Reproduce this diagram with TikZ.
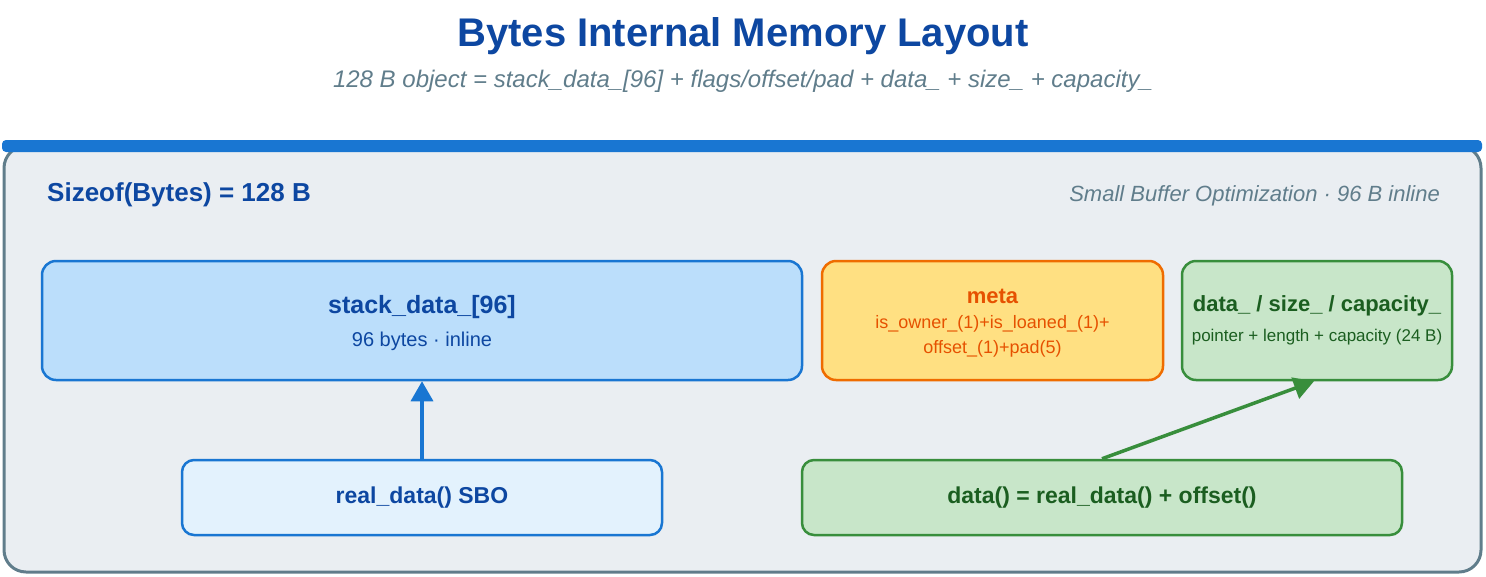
\documentclass[tikz,border=0pt]{standalone}
\usepackage{fontspec}
\setmainfont{Liberation Sans}
\usetikzlibrary{arrows.meta,positioning,calc}

\definecolor{inkblue}{HTML}{0D47A1}
\definecolor{slate}{HTML}{607D8B}
\definecolor{panelbg}{HTML}{EAEEF2}
\definecolor{barblue}{HTML}{1976D2}
\definecolor{stackfill}{HTML}{BBDEFB}
\definecolor{sbofill}{HTML}{E3F2FD}
\definecolor{metafill}{HTML}{FFE082}
\definecolor{metaline}{HTML}{EF6C00}
\definecolor{metaink}{HTML}{E65100}
\definecolor{greenfill}{HTML}{C8E6C9}
\definecolor{greenline}{HTML}{388E3C}
\definecolor{greenink}{HTML}{1B5E20}

\begin{document}
\begin{tikzpicture}[
  x=1pt, y=-1pt,
  line/.style={draw, -{Triangle[length=20pt,width=22pt]}, line width=3.5pt},
  box/.style={rectangle, draw, rounded corners=14pt, line width=2.5pt,
              inner sep=0pt, align=center},
  bluebox/.style={box, fill=stackfill, draw=barblue},
  metabox/.style={box, fill=metafill, draw=metaline},
  greenbox/.style={box, fill=greenfill, draw=greenline},
  headtext/.style={inner sep=0pt, font=\fontsize{#1}{#1}\selectfont\bfseries},
  plaintext/.style={inner sep=0pt, font=\fontsize{#1}{#1}\selectfont},
  notetext/.style={inner sep=0pt, text=slate, font=\fontsize{#1}{#1}\selectfont\itshape}
]
\useasboundingbox (0,0) rectangle (1486,576);

% =======================================================
%                     TITLE
% =======================================================
\node[headtext=40, text=inkblue] (title) at (743,36) {Bytes Internal Memory Layout};
\node[notetext=24] (subtitle) at (743,81)
  {128 B object = stack\_data\_[96] + flags/offset/pad + data\_ + size\_ + capacity\_};

% =======================================================
%                     OUTER PANEL
% =======================================================
\draw[fill=panelbg, draw=slate, line width=3pt, rounded corners=22pt]
  (4,146) rectangle (1481,572);
\fill[barblue, rounded corners=4pt] (2,140) rectangle (1482,152);

\node[headtext=26, text=inkblue, anchor=west] (sizeof) at (47,195) {Sizeof(Bytes) = 128 B};
\node[notetext=22, anchor=east] (sbo) at (1440,196)
  {Small Buffer Optimization · 96 B inline};

% =======================================================
%                     FIELDS
% =======================================================
\node[bluebox, minimum width=760pt, minimum height=119pt] (stack) at (422,320.5) {};
\node[headtext=25, text=inkblue] (stacktitle) at (422,307) {stack\_data\_[96]};
\node[plaintext=20, text=inkblue] (stacksub) at (422,341) {96 bytes · inline};

\node[metabox, minimum width=341pt, minimum height=119pt] (meta) at (992.5,320.5) {};
\node[headtext=22, text=metaink] (metatitle) at (992.5,296) {meta};
\node[plaintext=18, text=metaink] (metasub) at (992.5,324) {is\_owner\_(1)+is\_loaned\_(1)+};
\node[plaintext=18, text=metaink] (metasub2) at (992.5,349) {offset\_(1)+pad(5)};

\node[greenbox, minimum width=270pt, minimum height=119pt] (fields) at (1317,320.5) {};
\node[headtext=22, text=greenink] (fieldstitle) at (1317,306) {data\_ / size\_ / capacity\_};
\node[plaintext=17, text=greenink] (fieldssub) at (1317,337) {pointer + length + capacity (24 B)};

% =======================================================
%                     ACCESSORS
% =======================================================
\node[box, rounded corners=12pt, fill=sbofill, draw=barblue, minimum width=480pt,
      minimum height=75pt, headtext=23, text=inkblue] (realdata) at (422,497.5) {real\_data() SBO};
\node[greenbox, rounded corners=12pt, minimum width=600pt, minimum height=75pt,
      headtext=23, text=greenink] (datafn) at (1102,497.5) {data() = real\_data() + offset()};

% =======================================================
%                     CONNECTIONS
% =======================================================
\draw[line, barblue] (realdata.north) -- (realdata.north |- stack.south);
\draw[line, greenline] (datafn.north) -- ($(fields.south)+(-3,0)$);

\end{tikzpicture}
\end{document}
